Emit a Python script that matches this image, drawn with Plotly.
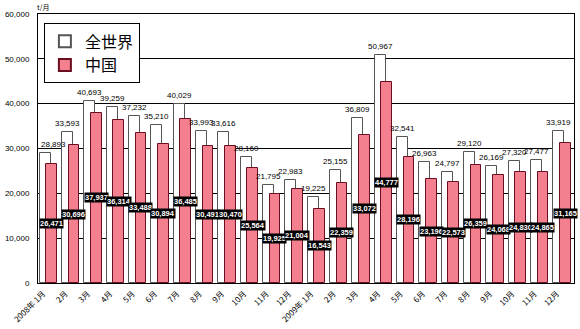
import plotly.graph_objects as go

months = ["2008年 1月", "2月", "3月", "4月", "5月", "6月", "7月", "8月", "9月", "10月", "11月", "12月",
          "2009年 1月", "2月", "3月", "4月", "5月", "6月", "7月", "8月", "9月", "10月", "11月", "12月"]
world = [28893, 33593, 40693, 39259, 37232, 35210, 40029, 33993, 33616, 28160, 21795, 22983,
         19225, 25155, 36809, 50967, 32541, 26963, 24797, 29120, 26169, 27320, 27477, 33919]
china = [26471, 30696, 37937, 36314, 33488, 30894, 36485, 30491, 30470, 25564, 19925, 21004,
         16543, 22359, 33072, 44777, 28196, 23196, 22573, 26359, 24068, 24830, 24865, 31165]

x = list(range(len(months)))
W_OFF, W_W = -0.43, 0.49
C_OFF, C_W = -0.13, 0.48

NUMFONT = "Arial, 'Liberation Sans', sans-serif"
JPFONT = "'Noto Sans CJK JP', sans-serif"

fig = go.Figure()
fig.add_trace(go.Bar(
    x=x, y=world, name="全世界", offset=W_OFF, width=W_W,
    marker=dict(color="white", line=dict(color="#555555", width=1)),
    hoverinfo="skip",
))
fig.add_trace(go.Bar(
    x=x, y=china, name="中国", offset=C_OFF, width=C_W,
    marker=dict(color="#F4808F", line=dict(color="#6A0E22", width=1)),
    hoverinfo="skip",
))

ann = []
for i, (w, c) in enumerate(zip(world, china)):
    wx = i + W_OFF + W_W / 2
    first = (i == 0)
    ann.append(dict(
        x=(-0.5 if first else wx), y=w, xref="x", yref="y", text=f"{w:,}",
        showarrow=False, yanchor="bottom", yshift=2,
        xanchor=("left" if first else "center"), xshift=(1 if first else 0),
        font=dict(family=NUMFONT, size=8, color="#000000"),
    ))
    ann.append(dict(
        x=i + C_OFF + C_W / 2, y=c / 2, xref="x", yref="y", text=f"<b>{c:,}</b>",
        showarrow=False, yanchor="middle", bgcolor="#000000", borderpad=0,
        font=dict(family=NUMFONT, size=7.5, color="#FFFFFF"),
    ))
ann.append(dict(
    x=0, y=1, xref="paper", yref="paper", text="t/月", showarrow=False,
    xanchor="left", yanchor="bottom", xshift=-3, yshift=0,
    font=dict(family=JPFONT, size=7, color="#000000"),
))

fig.update_layout(
    width=580, height=329,
    margin=dict(l=32, r=5, t=14, b=44),
    paper_bgcolor="white", plot_bgcolor="white",
    barmode="overlay", bargap=0,
    showlegend=True,
    legend=dict(
        x=0.011, y=0.965, xanchor="left", yanchor="top",
        bgcolor="white", bordercolor="#000000", borderwidth=1,
        font=dict(family=JPFONT, size=16, color="#000000"),
        tracegroupgap=2, itemsizing="constant",
    ),
    annotations=ann,
    xaxis=dict(
        range=[-0.5, 23.5], tickmode="array", tickvals=x, ticktext=months,
        tickangle=-45, tickfont=dict(family=JPFONT, size=8, color="#000000"),
        showgrid=False, zeroline=False, showline=True, linecolor="#000000", linewidth=1,
        mirror=True, ticks="", ticklabelshift=-6, ticklabelstandoff=2,
    ),
    yaxis=dict(
        range=[0, 60000], tickvals=[0, 10000, 20000, 30000, 40000, 50000, 60000],
        ticktext=["0", "10,000", "20,000", "30,000", "40,000", "50,000", "60,000"],
        tickfont=dict(family=NUMFONT, size=8, color="#000000"),
        showgrid=True, gridcolor="#000000", gridwidth=1, zeroline=False,
        showline=True, linecolor="#000000", linewidth=1, mirror=True, ticks="",
        ticklabelstandoff=6,
    ),
)

fig.write_html("out.html")
